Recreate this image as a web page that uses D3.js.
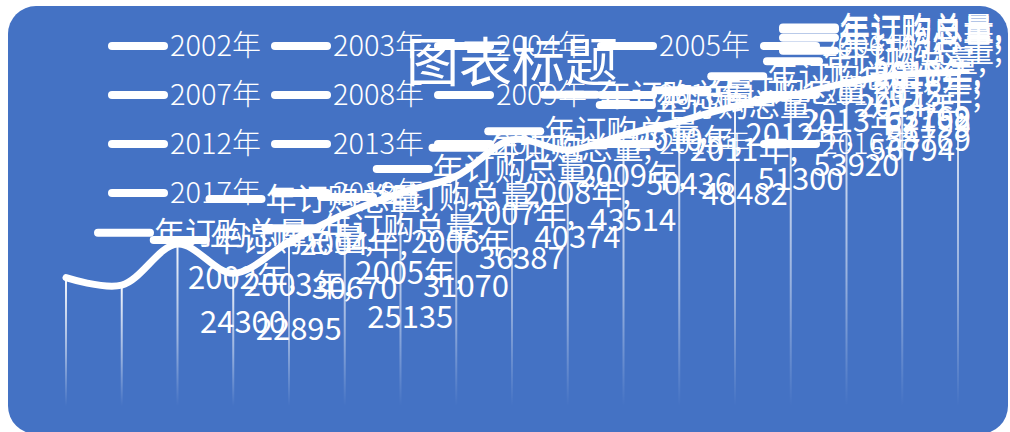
<!DOCTYPE html>
<html>
<head>
<meta charset="utf-8">
<script src="https://cdn.jsdelivr.net/npm/d3@7"></script>
<style>
  body { margin: 0; background: #fff; }
  text { font-family: "Noto Sans CJK SC", "Noto Sans", sans-serif; fill: #fff; }
</style>
</head>
<body>
<div id="chart"></div>
<script>
// data
var years = ["2002年", "2003年", "2004年", "2005年", "2006年", "2007年", "2008年", "2009年",
             "2010年", "2011年", "2012年", "2013年", "2014年", "2015年", "2016年", "2017年", "2018年"];
var totals = [24300, 22895, 30670, 25135, 31070, 36387, 40374, 43514,
              50436, 48482, 51300, 53920, 56794, 58769, 61199, 62792, 63169];
var seriesName = "年订购总量";
var chartTitle = "图表标题";

var width = 1010, height = 432;

var svg = d3.select("#chart")
  .append("svg")
  .attr("width", width)
  .attr("height", height);

// background panel
svg.append("rect")
  .attr("x", 8).attr("y", 6)
  .attr("width", 1000).attr("height", 428)
  .attr("rx", 28)
  .attr("fill", "#4472C4");

var defs = svg.append("defs");
var grad = defs.append("linearGradient")
  .attr("id", "drop")
  .attr("x1", 0).attr("y1", 0).attr("x2", 0).attr("y2", 1);
grad.append("stop").attr("offset", "0%").attr("stop-color", "#fff").attr("stop-opacity", 0.95);
grad.append("stop").attr("offset", "60%").attr("stop-color", "#fff").attr("stop-opacity", 0.45);
grad.append("stop").attr("offset", "100%").attr("stop-color", "#fff").attr("stop-opacity", 0);

// scales
var x = d3.scalePoint().domain(years).range([66, 958]);
var y = d3.scaleLinear().domain([0, 70000]).range([406, 36.4]);

// drop lines
svg.selectAll(".drop")
  .data(years)
  .enter()
  .append("rect")
  .attr("class", "drop")
  .attr("x", function(d) { return x(d) - 1; })
  .attr("y", function(d, i) { return y(totals[i]); })
  .attr("width", 2)
  .attr("height", function(d, i) { return y(0) - y(totals[i]); })
  .attr("fill", "url(#drop)");

// smooth line
var line = d3.line()
  .x(function(d, i) { return x(years[i]); })
  .y(function(d) { return y(d); })
  .curve(d3.curveCatmullRom.alpha(0.5));

svg.append("path")
  .datum(totals)
  .attr("d", line)
  .attr("fill", "none")
  .attr("stroke", "#fff")
  .attr("stroke-width", 7)
  .attr("stroke-linecap", "round");

// legend (one entry per year)
var legend = svg.append("g");
years.forEach(function(d, i) {
  var col = i % 5, row = Math.floor(i / 5);
  var lx = 112 + col * 163, ly = 46 + row * 49;
  legend.append("line")
    .attr("x1", lx).attr("x2", lx + 52)
    .attr("y1", ly).attr("y2", ly)
    .attr("stroke", "#fff").attr("stroke-width", 8)
    .attr("stroke-linecap", "round");
  legend.append("text")
    .attr("x", lx + 58).attr("y", ly)
    .attr("dy", "0.36em")
    .attr("font-size", "29px")
    .attr("font-weight", 300)
    .text(d);
});

// title
svg.append("text")
  .attr("x", 512).attr("y", 63)
  .attr("dy", "0.36em")
  .attr("text-anchor", "middle")
  .attr("font-size", "53px")
  .text(chartTitle);

// data labels: key + series name, year, value
var labels = svg.append("g");
years.forEach(function(d, i) {
  var px = x(d), py = y(totals[i]);
  var shift = Math.min(0, 1003 - (px + 252));
  var bx = px + shift;
  labels.append("line")
    .attr("x1", bx + 32).attr("x2", bx + 84)
    .attr("y1", py - 45).attr("y2", py - 45)
    .attr("stroke", "#fff").attr("stroke-width", 8)
    .attr("stroke-linecap", "round");
  labels.append("text")
    .attr("x", bx + 88).attr("y", py - 45)
    .attr("dy", "0.36em")
    .attr("font-size", "31px")
    .text(seriesName + ",");
  labels.append("text")
    .attr("x", bx + 122).attr("y", py)
    .attr("dy", "0.36em")
    .attr("font-size", "31px")
    .text(d + ",");
  labels.append("text")
    .attr("x", bx + 134).attr("y", py + 44)
    .attr("dy", "0.36em")
    .attr("font-size", "31px")
    .text(totals[i]);
});
</script>
</body>
</html>
